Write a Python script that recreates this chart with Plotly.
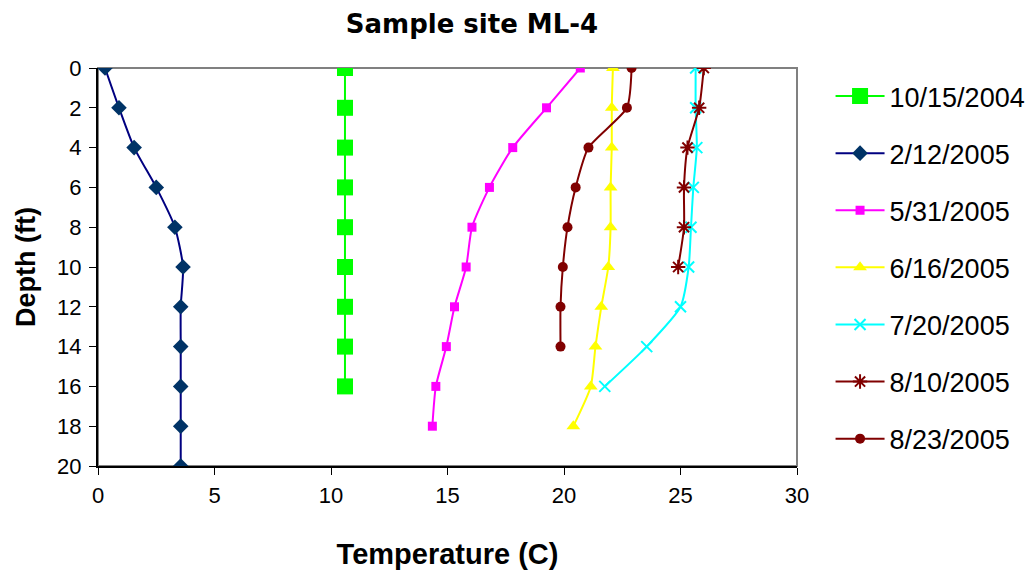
import plotly.graph_objects as go

depth = [0, 2, 4, 6, 8, 10, 12, 14, 16, 18, 20]

t_20041015 = [10.6, 10.6, 10.6, 10.6, 10.6, 10.6, 10.6, 10.6, 10.6]
t_20050212 = [0.3, 0.9, 1.55, 2.5, 3.3, 3.65, 3.55, 3.55, 3.55, 3.55, 3.55]
t_20050531 = [20.7, 19.25, 17.8, 16.8, 16.05, 15.8, 15.3, 14.95, 14.5, 14.35]
t_20050616 = [22.1, 22.05, 22.05, 22.0, 22.0, 21.9, 21.6, 21.35, 21.15, 20.4]
t_20050720 = [25.65, 25.65, 25.7, 25.55, 25.45, 25.35, 25.0, 23.55, 21.75]
t_20050810 = [26.0, 25.8, 25.3, 25.15, 25.15, 24.9]
t_20050823 = [22.9, 22.7, 21.05, 20.5, 20.15, 19.95, 19.85, 19.85]

labels = ["10/15/2004", "2/12/2005", "5/31/2005", "6/16/2005",
          "7/20/2005", "8/10/2005", "8/23/2005"]

series = [
    (t_20041015, "#00FF00", "#00FF00", "square", 16),
    (t_20050212, "#000080", "#003366", "diamond", 12),
    (t_20050531, "#FF00FF", "#FF00FF", "square", 9),
    (t_20050616, "#FFFF00", "#FFFF00", "triangle-up", 12),
    (t_20050720, "#00FFFF", "#00FFFF", "x-thin-open", 11),
    (t_20050810, "#800000", "#800000", "asterisk-open", 12),
    (t_20050823, "#800000", "#800000", "circle", 10),
]

fig = go.Figure()
for lab, (vals, lc, mc, sym, sz) in zip(labels, series):
    fig.add_trace(go.Scatter(
        x=vals, y=depth[:len(vals)], name=lab, mode="lines+markers",
        legendgroup=lab,
        line=dict(color=lc, width=2, shape="spline", smoothing=0.6),
        marker=dict(symbol=sym, size=sz, color=mc,
                    line=dict(color=mc, width=2 if "open" in sym else 0)),
    ))

fig.add_shape(type="rect", xref="paper", yref="paper", x0=0, y0=0, x1=1, y1=1,
              line=dict(color="#808080", width=2), layer="below")

fig.update_layout(
    width=1033, height=575,
    margin=dict(l=98, r=236, t=68, b=109, autoexpand=False),
    paper_bgcolor="white", plot_bgcolor="white",
    title=dict(text="<b>Sample site ML-4</b>", x=472/1033, xref="container",
               xanchor="center", y=0.958, yanchor="middle",
               font=dict(family="DejaVu Sans", size=26, color="black")),
    xaxis=dict(range=[0, 30], tickvals=[0, 5, 10, 15, 20, 25, 30],
               showgrid=False, zeroline=False, showline=True, linecolor="black",
               linewidth=2, ticks="outside", ticklen=7, tickcolor="black",
               ticklabelstandoff=2,
               tickfont=dict(family="Liberation Sans, Arial", size=22, color="black"),
               title=dict(text="<b>Temperature (C)</b>", standoff=36,
                          font=dict(family="Liberation Sans, Arial", size=29, color="black"))),
    yaxis=dict(range=[20, 0], tickvals=depth,
               showgrid=False, zeroline=False, showline=True, linecolor="black",
               linewidth=2, ticks="outside", ticklen=7, tickcolor="black",
               ticklabelstandoff=3,
               tickfont=dict(family="Liberation Sans, Arial", size=22, color="black"),
               title=dict(text="<b>Depth (ft)</b>", standoff=14,
                          font=dict(family="Liberation Sans, Arial", size=27, color="black"))),
    legend=dict(x=1.048, xanchor="left", y=0.99, yanchor="top",
                font=dict(family="Liberation Sans, Arial", size=27, color="black"),
                tracegroupgap=19, itemwidth=49, maxheight=600,
                bgcolor="rgba(0,0,0,0)"),
    showlegend=True,
)

fig.write_html("out.html")
